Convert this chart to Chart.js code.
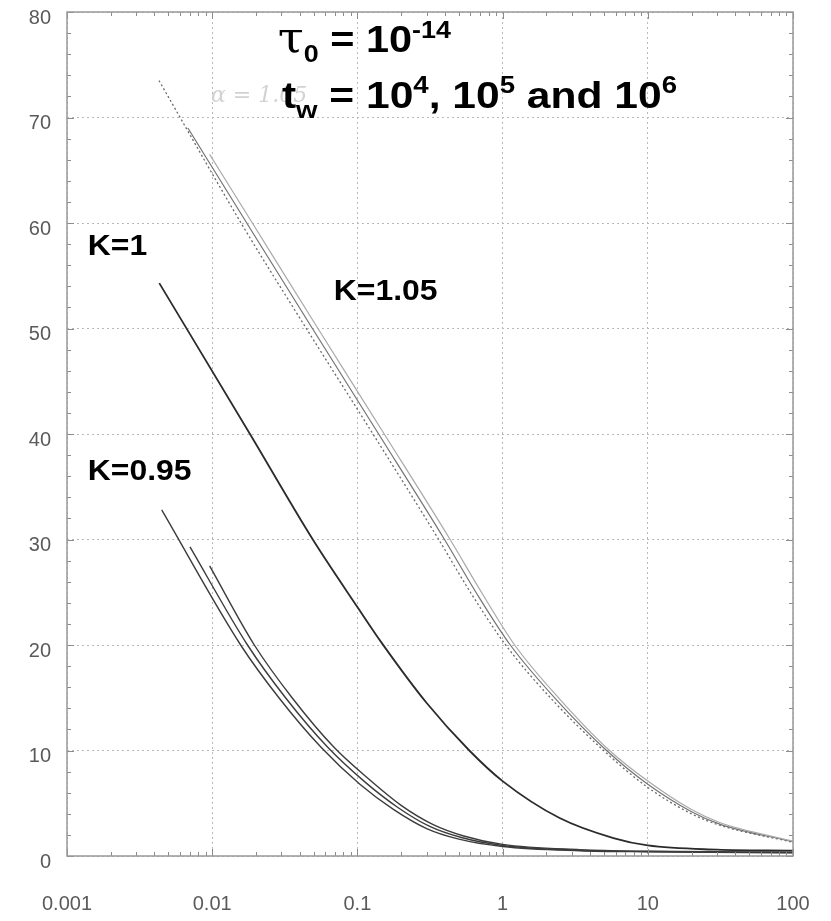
<!DOCTYPE html>
<html>
<head>
<meta charset="utf-8">
<script src="https://cdn.jsdelivr.net/npm/chart.js@4.4.1/dist/chart.umd.min.js"></script>
<style>
  html, body { margin: 0; padding: 0; background: #fff; }
  #wrap { width: 831px; height: 921px; }
</style>
</head>
<body>
<div id="wrap"><canvas id="relaxChart" width="831" height="921"></canvas></div>
<script>
// axis ticks
const xTicks = [0.001, 0.01, 0.1, 1, 10, 100];
const yTicks = [0, 10, 20, 30, 40, 50, 60, 70, 80];

// K = 1.05, tw = 1e4, 1e5, 1e6
const k105aX = [0.0043, 0.0158, 0.0445, 0.128, 0.363, 0.6, 1.05, 2.2, 4.96, 10, 20, 31.6, 100];
const k105aY = [73.5, 60, 50, 40, 30, 25, 20, 14.8, 10, 6.5, 4.0, 2.9, 1.3];
const k105bX = [0.0068, 0.0173, 0.049, 0.140, 0.398, 0.655, 1.13, 2.35, 5.2, 10, 20, 31.6, 100];
const k105bY = [69.0, 60, 50, 40, 30, 25, 20, 14.8, 10, 6.8, 4.2, 3.0, 1.35];
const k105cX = [0.0096, 0.0189, 0.0535, 0.153, 0.435, 0.715, 1.21, 2.5, 5.45, 10, 20, 31.6, 100];
const k105cY = [66.5, 60, 50, 40, 30, 25, 20, 14.8, 10, 7.1, 4.4, 3.15, 1.4];

// K = 1
const k1X = [0.00432, 0.0182, 0.0493, 0.1, 0.147, 0.3, 0.59, 1, 2.47, 5.8, 10, 30, 100];
const k1Y = [54.3, 40, 30, 23.6, 20.2, 14.5, 10, 7.1, 3.6, 1.7, 1.0, 0.6, 0.5];

// K = 0.95, tw = 1e4, 1e5, 1e6
const k095aX = [0.00449, 0.0157, 0.0288, 0.0562, 0.104, 0.178, 0.3, 0.5, 1, 3.4, 10, 100];
const k095aY = [32.8, 20, 15, 10.3, 6.8, 4.4, 2.6, 1.6, 0.9, 0.5, 0.4, 0.3];
const k095bX = [0.00703, 0.0175, 0.032, 0.0625, 0.113, 0.19, 0.315, 0.52, 1, 3.4, 10, 100];
const k095bY = [29.3, 20, 15, 10.3, 7.0, 4.6, 2.8, 1.75, 1.0, 0.55, 0.42, 0.32];
const k095cX = [0.0096, 0.0195, 0.0355, 0.069, 0.122, 0.2, 0.33, 0.54, 1, 3.4, 10, 100];
const k095cY = [27.5, 20, 15, 10.3, 7.2, 4.8, 3.0, 1.9, 1.1, 0.6, 0.45, 0.35];

const toPoints = (xs, ys) => xs.map((x, i) => ({ x: x, y: ys[i] }));

function curve(xs, ys, color, width, dash) {
    return {
        data: toPoints(xs, ys),
        borderColor: color,
        borderWidth: width,
        borderDash: dash || [],
        pointRadius: 0,
        fill: false,
        cubicInterpolationMode: 'monotone'
    };
}

// text painted inside the plot: [x, y] anchors are in data units
const notes = [
    { at: [0.0283, 76.2], scaleX: 1.12, parts: [
        { t: 'τ', f: '42px "DejaVu Serif"' },
        { t: '0', f: 'bold 24px "Liberation Sans"', dy: 10 },
        { t: ' = 10', f: 'bold 37px "Liberation Sans"' },
        { t: '-14', f: 'bold 24px "Liberation Sans"', dy: -14 }
    ]},
    { at: [0.0302, 70.9], scaleX: 1.15, parts: [
        { t: 't', f: 'bold 37px "Liberation Sans"' },
        { t: 'w', f: 'bold 24px "Liberation Sans"', dy: 10 },
        { t: ' = 10', f: 'bold 37px "Liberation Sans"' },
        { t: '4', f: 'bold 24px "Liberation Sans"', dy: -15 },
        { t: ', 10', f: 'bold 37px "Liberation Sans"' },
        { t: '5', f: 'bold 24px "Liberation Sans"', dy: -15 },
        { t: ' and 10', f: 'bold 37px "Liberation Sans"' },
        { t: '6', f: 'bold 24px "Liberation Sans"', dy: -15 }
    ]},
    { at: [0.00139, 57.0], scaleX: 1.1, parts: [{ t: 'K=1', f: 'bold 29px "Liberation Sans"' }] },
    { at: [0.0688, 52.7], scaleX: 1.1, parts: [{ t: 'K=1.05', f: 'bold 29px "Liberation Sans"' }] },
    { at: [0.00139, 35.6], scaleX: 1.1, parts: [{ t: 'K=0.95', f: 'bold 29px "Liberation Sans"' }] }
];

const notesPlugin = {
    id: 'notes',
    afterDatasetsDraw(chart) {
        const { ctx, scales: { x, y } } = chart;
        ctx.save();
        // faint pencil note under the header
        ctx.fillStyle = '#d2d2d2';
        ctx.font = 'italic 22px "DejaVu Serif"';
        ctx.fillText('α = 1.05', x.getPixelForValue(0.0098), y.getPixelForValue(71.5));
        ctx.fillStyle = '#000';
        ctx.textBaseline = 'alphabetic';
        notes.forEach(n => {
            ctx.save();
            ctx.translate(x.getPixelForValue(n.at[0]), y.getPixelForValue(n.at[1]));
            ctx.scale(n.scaleX, 1);
            let cx = 0;
            n.parts.forEach(p => {
                ctx.font = p.f;
                ctx.fillText(p.t, cx, p.dy || 0);
                cx += ctx.measureText(p.t).width;
            });
            ctx.restore();
        });
        ctx.restore();
    }
};

// box around the plot plus the small inward ticks
const frameTicks = {
    id: 'frameTicks',
    afterDraw(chart) {
        const { ctx, chartArea: a, scales: { x, y } } = chart;
        ctx.save();
        ctx.strokeStyle = '#8c8c8c';
        ctx.lineWidth = 1;
        const seg = (x1, y1, x2, y2) => {
            ctx.beginPath(); ctx.moveTo(x1, y1); ctx.lineTo(x2, y2); ctx.stroke();
        };
        for (let d = 0; d < xTicks.length; d++) {
            const px = Math.round(x.getPixelForValue(xTicks[d])) + 0.5;
            seg(px, a.bottom, px, a.bottom - 7);
            seg(px, a.top, px, a.top + 7);
            if (d === xTicks.length - 1) break;
            for (let m = 2; m <= 9; m++) {
                const mx = Math.round(x.getPixelForValue(xTicks[d] * m)) + 0.5;
                seg(mx, a.bottom, mx, a.bottom - 4);
                seg(mx, a.top, mx, a.top + 4);
            }
        }
        for (let v = 0; v <= 80; v += 2) {
            const py = Math.round(y.getPixelForValue(v)) + 0.5;
            const len = v % 10 === 0 ? 7 : 4;
            seg(a.left, py, a.left + len, py);
            seg(a.right, py, a.right - len, py);
        }
        ctx.lineWidth = 1.5;
        ctx.strokeStyle = '#999';
        ctx.strokeRect(a.left, a.top, a.right - a.left, a.bottom - a.top);
        ctx.restore();
    }
};

const ctx = document.getElementById('relaxChart').getContext('2d');

new Chart(ctx, {
    type: 'line',
    data: {
        datasets: [
            curve(k105cX, k105cY, '#a9a9a9', 1.2),
            curve(k105bX, k105bY, '#747474', 1.2),
            curve(k105aX, k105aY, '#6a6a6a', 1.3, [2, 2.5]),
            curve(k1X, k1Y, '#2b2b2b', 1.8),
            curve(k095cX, k095cY, '#3c3c3c', 1.4),
            curve(k095bX, k095bY, '#3c3c3c', 1.4),
            curve(k095aX, k095aY, '#3c3c3c', 1.4)
        ]
    },
    options: {
        responsive: false,
        animation: false,
        layout: { autoPadding: false, padding: { top: 12, right: 38, left: 0, bottom: 0 } },
        plugins: {
            legend: { display: false },
            tooltip: { enabled: false }
        },
        scales: {
            x: {
                type: 'logarithmic',
                min: 0.001,
                max: 100,
                afterBuildTicks: (scale) => {
                    scale.ticks = xTicks.map(v => ({ value: v }));
                },
                afterFit: (scale) => {
                    scale.height = 65;
                    scale.paddingLeft = 0;
                    scale.paddingRight = 0;
                },
                grid: { color: '#b8b8b8', lineWidth: 1, drawTicks: false },
                border: { display: false, dash: [2, 3] },
                ticks: {
                    autoSkip: false,
                    maxRotation: 0,
                    padding: 36,
                    color: '#5a5a5a',
                    font: { family: '"Liberation Sans", Arial', size: 20 },
                    callback: (v) => String(v)
                }
            },
            y: {
                type: 'linear',
                min: 0,
                max: 80,
                afterBuildTicks: (scale) => {
                    scale.ticks = yTicks.map(v => ({ value: v }));
                },
                afterFit: (scale) => {
                    scale.width = 67;
                    scale.paddingTop = 0;
                    scale.paddingBottom = 0;
                },
                grid: { color: '#b8b8b8', lineWidth: 1, drawTicks: false },
                border: { display: false, dash: [2, 3] },
                ticks: {
                    padding: 16,
                    labelOffset: 6,
                    color: '#5a5a5a',
                    font: { family: '"Liberation Sans", Arial', size: 20 }
                }
            }
        }
    },
    plugins: [notesPlugin, frameTicks]
});
</script>
</body>
</html>
